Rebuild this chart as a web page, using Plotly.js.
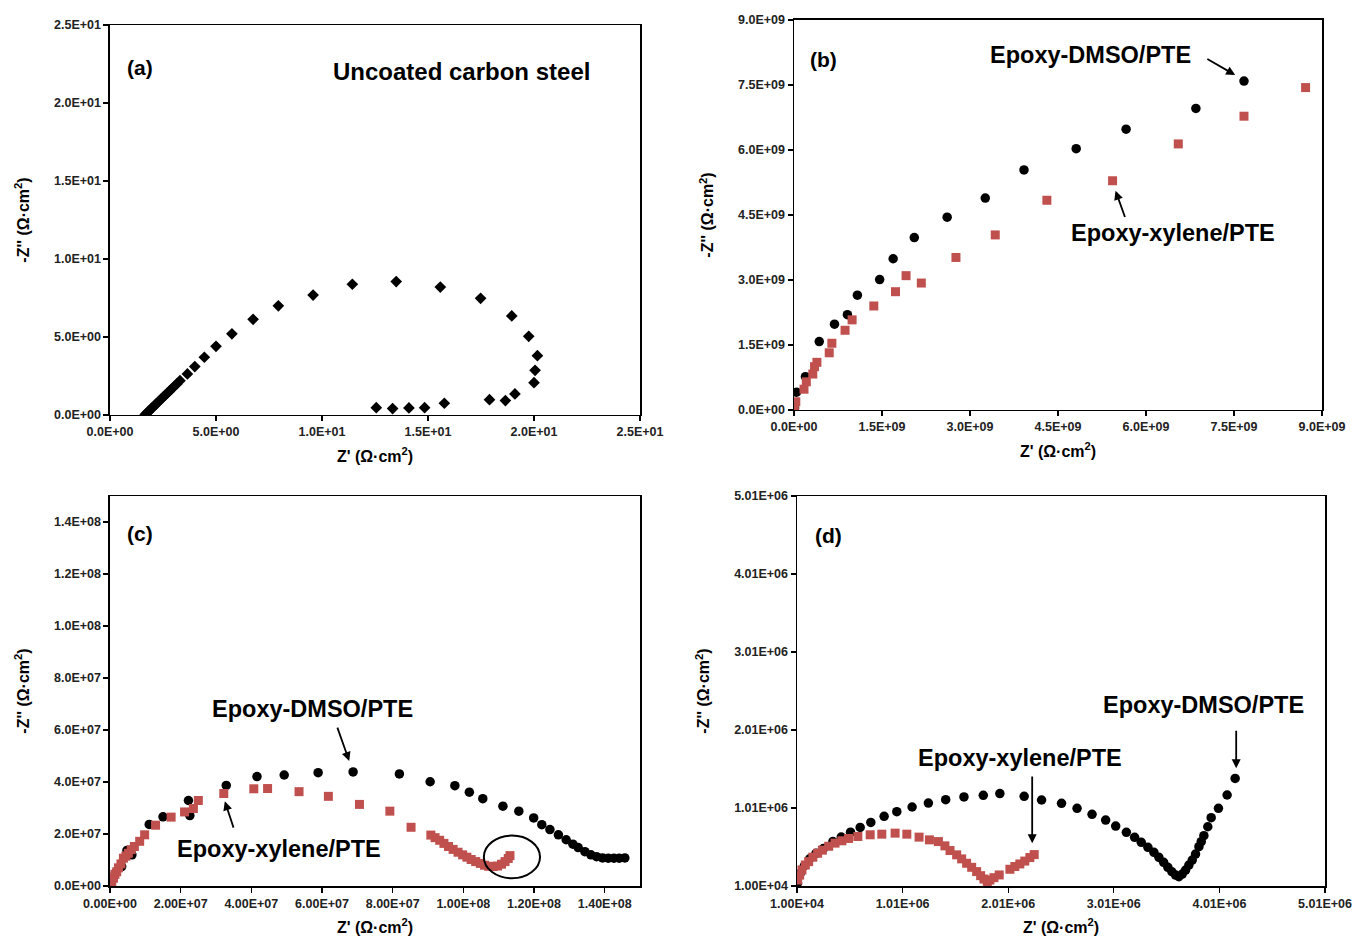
<!DOCTYPE html>
<html><head><meta charset="utf-8">
<script src="https://cdn.plot.ly/plotly-3.0.1.min.js"></script>
<style>html,body{margin:0;padding:0;background:#fff;}</style>
</head><body>
<div id="chart" style="width:1358px;height:938px;"></div>
<script>
// ---------- Panel (a): uncoated carbon steel ----------
const aX = [1.65,1.70,1.75,1.80,1.86,1.92,1.98,2.04,2.11,2.18,2.25,2.33,2.41,2.50,2.59,2.69,2.79,2.90,3.02,3.15,3.30,3.65,4.00,4.45,5.00,5.75,6.75,7.94,9.58,11.43,13.50,15.58,17.48,18.95,19.75,20.16,20.05,20.00,19.10,18.65,17.90,15.77,14.84,14.10,13.33,12.56];
const aY = [0.00,0.07,0.13,0.20,0.28,0.36,0.44,0.52,0.61,0.71,0.80,0.91,1.01,1.13,1.25,1.38,1.51,1.66,1.82,1.99,2.20,2.63,3.10,3.70,4.40,5.20,6.13,7.00,7.69,8.38,8.55,8.20,7.48,6.35,5.04,3.80,2.86,2.07,1.35,0.92,0.98,0.75,0.47,0.45,0.41,0.47];
const aTickVals = [0,5,10,15,20,25];
const aTickText = ["0.0E+00","5.0E+00","1.0E+01","1.5E+01","2.0E+01","2.5E+01"];

// ---------- Panel (b) ----------
const bDmsoX = [0.01e9,0.02e9,0.043e9,0.195e9,0.43e9,0.69e9,0.91e9,1.08e9,1.46e9,1.69e9,2.05e9,2.61e9,3.26e9,3.92e9,4.81e9,5.66e9,6.85e9,7.67e9];
const bDmsoY = [0.05e9,0.15e9,0.41e9,0.77e9,1.58e9,1.98e9,2.20e9,2.65e9,3.01e9,3.49e9,3.98e9,4.45e9,4.89e9,5.54e9,6.03e9,6.48e9,6.96e9,7.59e9];
const bXylX = [0.0,0.005e9,0.03e9,0.17e9,0.21e9,0.32e9,0.35e9,0.39e9,0.60e9,0.645e9,0.87e9,0.99e9,1.36e9,1.73e9,1.91e9,2.17e9,2.76e9,3.43e9,4.31e9,5.43e9,6.55e9,7.67e9,8.72e9];
const bXylY = [0.0,0.04e9,0.19e9,0.48e9,0.65e9,0.83e9,1.00e9,1.10e9,1.32e9,1.54e9,1.84e9,2.08e9,2.40e9,2.73e9,3.10e9,2.93e9,3.52e9,4.04e9,4.84e9,5.29e9,6.14e9,6.78e9,7.44e9];
const bTickVals = [0,1.5e9,3.0e9,4.5e9,6.0e9,7.5e9,9.0e9];
const bTickText = ["0.0E+00","1.5E+09","3.0E+09","4.5E+09","6.0E+09","7.5E+09","9.0E+09"];

// ---------- Panel (c) ----------
const cDmsoX = [0.02e7,0.08e7,0.15e7,0.33e7,0.48e7,0.62e7,1.11e7,1.50e7,2.22e7,2.26e7,3.29e7,4.16e7,4.93e7,5.89e7,6.88e7,8.19e7,9.06e7,9.76e7,1.017e8,1.055e8,1.112e8,1.157e8,1.199e8,1.222e8,1.245e8,1.269e8,1.291e8,1.310e8,1.325e8,1.344e8,1.361e8,1.377e8,1.394e8,1.410e8,1.426e8,1.441e8,1.457e8];
const cDmsoY = [0.10e7,0.30e7,0.50e7,0.75e7,1.37e7,1.20e7,2.37e7,2.66e7,3.29e7,2.71e7,3.87e7,4.21e7,4.27e7,4.36e7,4.39e7,4.31e7,4.01e7,3.86e7,3.61e7,3.36e7,3.07e7,2.88e7,2.62e7,2.36e7,2.17e7,1.97e7,1.78e7,1.61e7,1.48e7,1.32e7,1.20e7,1.13e7,1.08e7,1.07e7,1.07e7,1.07e7,1.08e7];
const cXylX = [0,0.05e7,0.10e7,0.14e7,0.19e7,0.24e7,0.31e7,0.38e7,0.45e7,0.52e7,0.60e7,0.69e7,0.84e7,0.98e7,1.29e7,1.73e7,2.11e7,2.36e7,2.50e7,3.22e7,4.07e7,4.46e7,5.35e7,6.18e7,7.06e7,7.92e7,8.52e7,9.08e7,9.20e7,9.33e7,9.45e7,9.58e7,9.71e7,9.85e7,9.98e7,1.010e8,1.022e8,1.035e8,1.048e8,1.060e8,1.072e8,1.085e8,1.097e8,1.108e8,1.118e8,1.127e8,1.132e8];
const cXylY = [0,0.15e7,0.30e7,0.45e7,0.55e7,0.70e7,0.85e7,1.07e7,1.15e7,1.26e7,1.40e7,1.52e7,1.72e7,1.97e7,2.34e7,2.65e7,2.85e7,2.98e7,3.29e7,3.56e7,3.74e7,3.75e7,3.63e7,3.45e7,3.14e7,2.88e7,2.26e7,1.96e7,1.86e7,1.76e7,1.64e7,1.52e7,1.41e7,1.30e7,1.20e7,1.11e7,1.02e7,0.94e7,0.87e7,0.80e7,0.76e7,0.75e7,0.77e7,0.84e7,0.94e7,1.06e7,1.17e7];
const cXTickVals = [0,2e7,4e7,6e7,8e7,1e8,1.2e8,1.4e8];
const cXTickText = ["0.00E+00","2.00E+07","4.00E+07","6.00E+07","8.00E+07","1.00E+08","1.20E+08","1.40E+08"];
const cYTickVals = [0,2e7,4e7,6e7,8e7,1e8,1.2e8,1.4e8];
const cYTickText = ["0.0E+00","2.0E+07","4.0E+07","6.0E+07","8.0E+07","1.0E+08","1.2E+08","1.4E+08"];

// ---------- Panel (d) ----------
const dDmsoX = [1.5e4,4e4,8e4,1.3e5,1.9e5,2.6e5,3.5e5,4.29e5,5.17e5,6.08e5,7.09e5,8.35e5,9.55e5,1.10e6,1.254e6,1.418e6,1.591e6,1.774e6,1.931e6,2.161e6,2.326e6,2.515e6,2.662e6,2.804e6,2.933e6,3.028e6,3.129e6,3.207e6,3.270e6,3.333e6,3.390e6,3.437e6,3.482e6,3.522e6,3.560e6,3.595e6,3.626e6,3.658e6,3.690e6,3.721e6,3.753e6,3.784e6,3.816e6,3.838e6,3.863e6,3.900e6,3.932e6,4.001e6,4.083e6,4.159e6];
const dDmsoY = [5e4,1.7e5,2.7e5,3.6e5,4.3e5,4.9e5,5.8e5,6.37e5,7.01e5,7.61e5,8.25e5,9.03e5,9.63e5,1.023e6,1.074e6,1.117e6,1.152e6,1.173e6,1.195e6,1.160e6,1.113e6,1.070e6,1.006e6,9.29e5,8.56e5,7.79e5,6.98e5,6.34e5,5.70e5,5.06e5,4.42e5,3.78e5,3.14e5,2.50e5,1.93e5,1.51e5,1.29e5,1.64e5,2.15e5,2.79e5,3.43e5,4.20e5,5.14e5,5.78e5,6.55e5,7.70e5,8.86e5,1.006e6,1.177e6,1.390e6];
const dXylX = [1.6e4,3.5e4,5.7e4,8.9e4,1.2e5,1.6e5,2.05e5,2.5e5,3.1e5,3.7e5,4.35e5,4.98e5,5.86e5,7.03e5,8.13e5,9.39e5,1.05e6,1.166e6,1.264e6,1.349e6,1.411e6,1.459e6,1.522e6,1.569e6,1.616e6,1.664e6,1.711e6,1.749e6,1.780e6,1.812e6,1.837e6,1.875e6,1.925e6,2.026e6,2.073e6,2.120e6,2.167e6,2.215e6,2.256e6];
const dXylY = [8.7e4,1.5e5,2.16e5,2.8e5,3.23e5,3.8e5,4.3e5,4.7e5,5.2e5,5.6e5,5.9e5,6.2e5,6.45e5,6.67e5,6.75e5,6.88e5,6.75e5,6.37e5,6.02e5,5.8e5,5.25e5,4.65e5,4.1e5,3.58e5,3.02e5,2.5e5,1.95e5,1.43e5,1.0e5,6.6e4,8.7e4,1.17e5,1.52e5,2.25e5,2.6e5,2.93e5,3.3e5,3.75e5,4.13e5];
const dTickVals = [1e4,1.01e6,2.01e6,3.01e6,4.01e6,5.01e6];
const dTickText = ["1.00E+04","1.01E+06","2.01E+06","3.01E+06","4.01E+06","5.01E+06"];

const labelDMSO = "Epoxy-DMSO/PTE";
const labelXyl = "Epoxy-xylene/PTE";
const xTitle = "Z' (Ω·cm<sup>2</sup>)";
const yTitle = "-Z'' (Ω·cm<sup>2</sup>)";

const RED = "#C0504D";
const FONT = "Arial, 'Liberation Sans', sans-serif";

function blk(x, y, xa, ya, sym, size) {
  return {x: x, y: y, xaxis: xa, yaxis: ya, type: 'scatter', mode: 'markers',
    marker: {color: '#000', symbol: sym, size: size}, showlegend: false, hoverinfo: 'skip'};
}
function red(x, y, xa, ya) {
  return {x: x, y: y, xaxis: xa, yaxis: ya, type: 'scatter', mode: 'markers',
    marker: {color: RED, symbol: 'square', size: 9}, showlegend: false, hoverinfo: 'skip'};
}

const data = [
  blk(aX, aY, 'x', 'y', 'diamond', 9),
  blk(bDmsoX, bDmsoY, 'x2', 'y2', 'circle', 9.5),
  red(bXylX, bXylY, 'x2', 'y2'),
  blk(cDmsoX, cDmsoY, 'x3', 'y3', 'circle', 9.5),
  red(cXylX, cXylY, 'x3', 'y3'),
  blk(dDmsoX, dDmsoY, 'x4', 'y4', 'circle', 9.5),
  red(dXylX, dXylY, 'x4', 'y4')
];

function ax(dom, range, tv, tt, title, standoff) {
  return {
    domain: dom, range: range, tickmode: 'array', tickvals: tv, ticktext: tt,
    showline: true, linecolor: '#000', linewidth: 1.5, mirror: true,
    ticks: 'outside', ticklen: 5, tickwidth: 1.2, tickcolor: '#000',
    showgrid: false, zeroline: false, fixedrange: true,
    tickfont: {family: FONT, size: 12.5, color: '#222', weight: 'bold'},
    title: {text: title, font: {family: FONT, size: 16, color: '#000', weight: 'bold'}, standoff: standoff},
    automargin: false
  };
}

const layout = {
  width: 1358, height: 938, margin: {l: 0, r: 0, t: 0, b: 0},
  paper_bgcolor: '#fff', plot_bgcolor: '#fff', showlegend: false,
  font: {family: FONT, color: '#000'},
  xaxis:  Object.assign(ax([0.0810, 0.4713], [0, 25], aTickVals, aTickText, xTitle, 12), {anchor: 'y'}),
  yaxis:  Object.assign(ax([0.5576, 0.9733], [0, 25], aTickVals, aTickText, yTitle, 20), {anchor: 'x'}),
  xaxis2: Object.assign(ax([0.5847, 0.9735], [0, 9e9], bTickVals, bTickText, xTitle, 12), {anchor: 'y2'}),
  yaxis2: Object.assign(ax([0.5629, 0.9787], [0, 9e9], bTickVals, bTickText, yTitle, 20), {anchor: 'x2'}),
  xaxis3: Object.assign(ax([0.0810, 0.4713], [0, 1.5e8], cXTickVals, cXTickText, xTitle, 12), {anchor: 'y3'}),
  yaxis3: Object.assign(ax([0.0554, 0.4712], [0, 1.5e8], cYTickVals, cYTickText, yTitle, 20), {anchor: 'x3'}),
  xaxis4: Object.assign(ax([0.5869, 0.9757], [1e4, 5.01e6], dTickVals, dTickText, xTitle, 12), {anchor: 'y4'}),
  yaxis4: Object.assign(ax([0.0554, 0.4712], [1e4, 5.01e6], dTickVals, dTickText, yTitle, 20), {anchor: 'x4'}),
  shapes: [
    {type: 'circle', xref: 'x3', yref: 'y3', x0: 1.058e8, x1: 1.217e8, y0: 0.3e7, y1: 1.94e7,
     line: {color: '#000', width: 2}}
  ],
  annotations: []
};

function txt(xr, yr, x, y, t, size) {
  return {xref: xr, yref: yr, x: x, y: y, text: t, showarrow: false,
    font: {family: FONT, size: size, color: '#000', weight: 'bold'}, xanchor: 'center', yanchor: 'middle'};
}
function arr(xr, yr, x0, y0, x1, y1) {
  return {xref: xr, yref: yr, axref: xr, ayref: yr, x: x1, y: y1, ax: x0, ay: y0, text: '',
    showarrow: true, arrowhead: 2, arrowsize: 1, arrowwidth: 1.8, arrowcolor: '#000', standoff: 0, startstandoff: 0};
}
layout.annotations.push(
  txt('x', 'y', 1.42, 22.3, '(a)', 21),
  txt('x', 'y', 16.6, 22.0, 'Uncoated carbon steel', 24),
  txt('x2', 'y2', 0.51e9, 8.08e9, '(b)', 21),
  txt('x2', 'y2', 5.06e9, 8.19e9, labelDMSO, 23.5),
  arr('x2', 'y2', 7.02e9, 8.12e9, 7.52e9, 7.73e9),
  txt('x2', 'y2', 6.46e9, 4.08e9, labelXyl, 23.5),
  arr('x2', 'y2', 5.65e9, 4.42e9, 5.48e9, 5.06e9),
  txt('x3', 'y3', 0.85e7, 1.355e8, '(c)', 21),
  txt('x3', 'y3', 5.745e7, 6.81e7, labelDMSO, 23.5),
  arr('x3', 'y3', 6.42e7, 6.15e7, 6.77e7, 4.81e7),
  txt('x3', 'y3', 4.78e7, 1.43e7, labelXyl, 23.5),
  arr('x3', 'y3', 3.51e7, 2.19e7, 3.25e7, 3.26e7),
  txt('x4', 'y4', 3.06e5, 4.50e6, '(d)', 21),
  txt('x4', 'y4', 3.86e6, 2.33e6, labelDMSO, 23.5),
  arr('x4', 'y4', 4.169e6, 2.019e6, 4.169e6, 1.519e6),
  txt('x4', 'y4', 2.12e6, 1.65e6, labelXyl, 23.5),
  arr('x4', 'y4', 2.237e6, 1.433e6, 2.237e6, 5.57e5)
);

Plotly.newPlot('chart', data, layout, {staticPlot: true, displayModeBar: false});
</script>
</body></html>
